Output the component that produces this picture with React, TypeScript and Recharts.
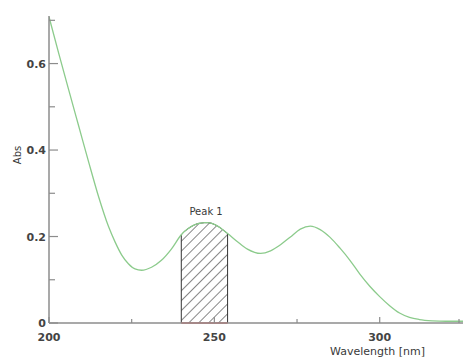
import React from 'react';
import { ComposedChart, Line, Area, XAxis, YAxis, ReferenceLine, ReferenceDot } from 'recharts';

const wavelengths = [200, 203, 206, 209, 212, 215, 218, 220, 222, 224, 226, 228, 231, 234, 237, 240, 241, 242, 243, 244, 245, 246, 247, 248, 249, 250, 251, 252, 253, 254, 257, 260, 264, 267, 270, 273, 276, 279, 282, 285, 288, 291, 294, 297, 300, 303, 306, 309, 312, 316, 320, 327];
const absorbance = [0.708, 0.622, 0.538, 0.455, 0.372, 0.292, 0.223, 0.187, 0.157, 0.137, 0.125, 0.122, 0.129, 0.145, 0.171, 0.204, 0.212, 0.218, 0.223, 0.227, 0.23, 0.231, 0.232, 0.232, 0.231, 0.228, 0.224, 0.219, 0.213, 0.207, 0.188, 0.171, 0.161, 0.167, 0.181, 0.199, 0.217, 0.224, 0.216, 0.198, 0.173, 0.145, 0.113, 0.085, 0.061, 0.04, 0.023, 0.013, 0.008, 0.005, 0.004, 0.004];

const peakStart = 240;
const peakEnd = 254;
const peakApex = 247.5;
const peakName = 'Peak 1';

const xTicks = [200, 225, 250, 275, 300, 325];
const xMajor = [200, 250, 300];
const yTicks = [0, 0.1, 0.2, 0.3, 0.4, 0.5, 0.6, 0.7];
const yMajor = [0, 0.2, 0.4, 0.6];

const curveData = wavelengths.map((w, i) => ({ x: w, y: absorbance[i] }));
const peakInner = curveData.filter((d) => d.x >= peakStart && d.x <= peakEnd);
const peakData = [
  { x: peakStart, y: 0 },
  ...peakInner,
  { x: peakEnd, y: 0 },
];
const apexValue = Math.max(...peakInner.map((d) => d.y));

const FONT = '"DejaVu Sans", sans-serif';
const AXIS = '#8c8c8c';
const TEXT = '#3a3a3a';

const YTick = (props: any) => {
  const { x, y, payload } = props;
  const v = payload.value;
  const major = yMajor.some((m) => Math.abs(m - v) < 1e-6);
  return (
    <g>
      <line x1={x} x2={x + (major ? 9 : 6)} y1={y} y2={y} stroke={AXIS} strokeWidth={1.2} />
      {major && (
        <text x={x - 3} y={y} dy={4} textAnchor="end" fontSize={11} fontWeight="bold" fontFamily={FONT} fill="#444">
          {v === 0 ? '0' : v.toFixed(1)}
        </text>
      )}
    </g>
  );
};

const XTick = (props: any) => {
  const { x, y, payload } = props;
  const v = payload.value;
  const major = xMajor.includes(v);
  return (
    <g>
      <line x1={x} x2={x} y1={y} y2={y - (major ? 6 : 4)} stroke={AXIS} strokeWidth={1.2} />
      {major && (
        <text x={x} y={y + 18} textAnchor="middle" fontSize={11} fontWeight="bold" fontFamily={FONT} fill="#444">
          {v}
        </text>
      )}
    </g>
  );
};

export default function App() {
  return (
    <ComposedChart width={463} height={350} margin={{ top: 8, right: 2, left: 0, bottom: 0 }}>
      <defs>
        <pattern id="hatch" width="7" height="7" patternUnits="userSpaceOnUse" patternTransform="rotate(45)">
          <line x1="0" y1="0" x2="0" y2="7" stroke="#222" strokeWidth="1.1" />
        </pattern>
      </defs>
      <XAxis
        type="number"
        dataKey="x"
        domain={[200, 327]}
        ticks={xTicks}
        tick={<XTick />}
        tickLine={false}
        tickSize={0}
        tickMargin={0}
        height={35}
        allowDataOverflow
        axisLine={{ stroke: AXIS, strokeWidth: 1.5 }}
        label={{
          content: (p: any) => (
            <text
              x={p.viewBox.x + p.viewBox.width - 44}
              y={p.viewBox.y + 32}
              textAnchor="end"
              fontSize={11}
              fontFamily={FONT}
              fill={TEXT}
            >
              Wavelength [nm]
            </text>
          ),
        }}
      />
      <YAxis
        type="number"
        dataKey="y"
        domain={[0, 0.71]}
        ticks={yTicks}
        tick={<YTick />}
        tickLine={false}
        tickSize={0}
        tickMargin={0}
        width={41}
        allowDataOverflow
        axisLine={{ stroke: AXIS, strokeWidth: 1.5 }}
        label={{
          content: (p: any) => (
            <text
              x={p.viewBox.x + 9}
              y={147}
              transform={`rotate(-90 ${p.viewBox.x + 9} 147)`}
              textAnchor="middle"
              dominantBaseline="central"
              fontSize={10}
              fontFamily={FONT}
              fill={TEXT}
            >
              Abs
            </text>
          ),
        }}
      />
      <Line
        data={curveData}
        dataKey="y"
        type="monotone"
        stroke="#8ccb8c"
        strokeWidth={1.3}
        dot={false}
        activeDot={false}
        isAnimationActive={false}
      />
      <Area
        data={peakData}
        dataKey="y"
        type="linear"
        stroke="#333"
        strokeWidth={1}
        fill="url(#hatch)"
        fillOpacity={1}
        dot={false}
        activeDot={false}
        isAnimationActive={false}
      />
      <ReferenceLine
        segment={[
          { x: peakStart, y: 0 },
          { x: peakEnd, y: 0 },
        ]}
        stroke="#e85050"
        strokeWidth={1.5}
        ifOverflow="visible"
      />
      <ReferenceDot
        x={peakApex}
        y={apexValue}
        r={0}
        fill="none"
        stroke="none"
        ifOverflow="visible"
        label={{ value: peakName, position: 'top', offset: 8, fontSize: 10, fontFamily: FONT, fill: TEXT }}
      />
    </ComposedChart>
  );
}
